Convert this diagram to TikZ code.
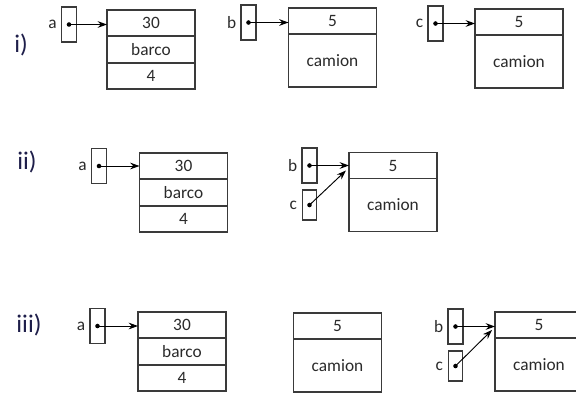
\documentclass[tikz,border=0pt]{standalone}
\usepackage{fontspec}
\setmainfont{Carlito}
\usetikzlibrary{arrows.meta, positioning, calc}
\definecolor{textGray}{HTML}{2A2A2A}
\definecolor{lineGray}{HTML}{3A3A3A}
\definecolor{stepNavy}{HTML}{1E1E4A}

\begin{document}
\begin{tikzpicture}[
    x=0.75pt, y=-0.75pt,
    field/.style={rectangle, draw=lineGray, line width=0.8pt, minimum width=66pt,
                  minimum height=#1, inner sep=0pt, outer sep=0pt,
                  font=\fontsize{13}{14}\selectfont\color{textGray}},
    field/.default=19.5pt,
    ptr/.style={rectangle, draw=lineGray, line width=0.8pt, minimum width=11.25pt,
                minimum height=#1, inner sep=0pt},
    ptr/.default=26.25pt,
    var/.style={font=\fontsize{13}{14}\selectfont\color{textGray}, inner sep=0pt},
    stepno/.style={font=\fontsize{19}{20}\selectfont\color{stepNavy}, inner sep=0pt},
    dot/.style={circle, fill=black, inner sep=0pt, minimum size=3.4pt},
    ref/.style={-{Stealth[length=7pt, width=5pt]}, draw=black, line width=0.7pt},
  ]
    \useasboundingbox (0,0) rectangle (576,394);

    % ---------- i) ----------
    \node[stepno] (s1) at (21,45) {i)};

    \node[ptr] (pa1) at (69,24.5) {};
    \node[var, left=3pt of pa1] (la1) {a};
    \node[dot] (da1) at (pa1.center) {};
    \node[field] (a1top) at (151,23) {30};
    \node[field=20.25pt, below=0pt of a1top] (a1mid) {barco};
    \node[field, below=0pt of a1mid] (a1bot) {4};
    \draw[ref] (da1.center) -- (da1 -| a1top.west);

    \node[ptr] (pb1) at (248.5,22.5) {};
    \node[var, left=3pt of pb1] (lb1) {b};
    \node[dot] (db1) at (pb1.center) {};
    \node[field] (b1top) at (332.5,21) {5};
    \node[field=39.75pt, below=0pt of b1top] (b1bot) {camion};
    \draw[ref] (db1.center) -- (db1 -| b1top.west);

    \node[ptr] (pc1) at (435.5,23.5) {};
    \node[var, left=3pt of pc1] (lc1) {c};
    \node[dot] (dc1) at (pc1.center) {};
    \node[field] (c1top) at (519,22) {5};
    \node[field=39.75pt, below=0pt of c1top] (c1bot) {camion};
    \draw[ref] (dc1.center) -- (dc1 -| c1top.west);

    % ---------- ii) ----------
    \node[stepno] (s2) at (27,162) {ii)};

    \node[ptr] (pa2) at (99,166) {};
    \node[var, left=3pt of pa2] (la2) {a};
    \node[dot] (da2) at (pa2.center) {};
    \node[field] (a2top) at (183.5,166) {30};
    \node[field=20.25pt, below=0pt of a2top] (a2mid) {barco};
    \node[field, below=0pt of a2mid] (a2bot) {4};
    \draw[ref] (da2.center) -- (da2 -| a2top.west);

    \node[ptr] (pb2) at (309.5,165.5) {};
    \node[var, left=3pt of pb2] (lb2) {b};
    \node[dot] (db2) at (pb2.center) {};
    \node[ptr=22.5pt, minimum width=10.5pt] (pc2) at (309.5,205) {};
    \node[var, left=3.5pt of pc2] (lc2) {c};
    \node[dot] (dc2) at (pc2.center) {};
    \node[field] (b2top) at (393,165.5) {5};
    \node[field=39.75pt, below=0pt of b2top] (b2bot) {camion};
    \coordinate (b2in) at ($(b2top.west)+(-3,5)$);
    \draw[ref] (db2.center) -- (db2 -| b2top.west);
    \draw[ref] (dc2.center) -- (b2in);

    % ---------- iii) ----------
    \node[stepno] (s3) at (29,325) {iii)};

    \node[ptr] (pa3) at (97.5,326) {};
    \node[var, left=3pt of pa3] (la3) {a};
    \node[dot] (da3) at (pa3.center) {};
    \node[field] (a3top) at (182,325) {30};
    \node[field=20.25pt, below=0pt of a3top] (a3mid) {barco};
    \node[field, below=0pt of a3mid] (a3bot) {4};
    \draw[ref] (da3.center) -- (da3 -| a3top.west);

    \node[field] (o3top) at (337.5,326) {5};
    \node[field=39.75pt, below=0pt of o3top] (o3bot) {camion};

    \node[ptr] (pb3) at (455.5,326.5) {};
    \node[var, left=3pt of pb3] (lb3) {b};
    \node[dot] (db3) at (pb3.center) {};
    \node[ptr=22.5pt, minimum width=10.5pt] (pc3) at (455.5,366) {};
    \node[var, left=3.5pt of pc3] (lc3) {c};
    \node[dot] (dc3) at (pc3.center) {};
    \node[field] (b3top) at (539,325) {5};
    \node[field=39.75pt, below=0pt of b3top] (b3bot) {camion};
    \coordinate (b3in) at ($(b3top.west)+(-3,5)$);
    \draw[ref] (db3.center) -- (db3 -| b3top.west);
    \draw[ref] (dc3.center) -- (b3in);
  \end{tikzpicture}
\end{document}
